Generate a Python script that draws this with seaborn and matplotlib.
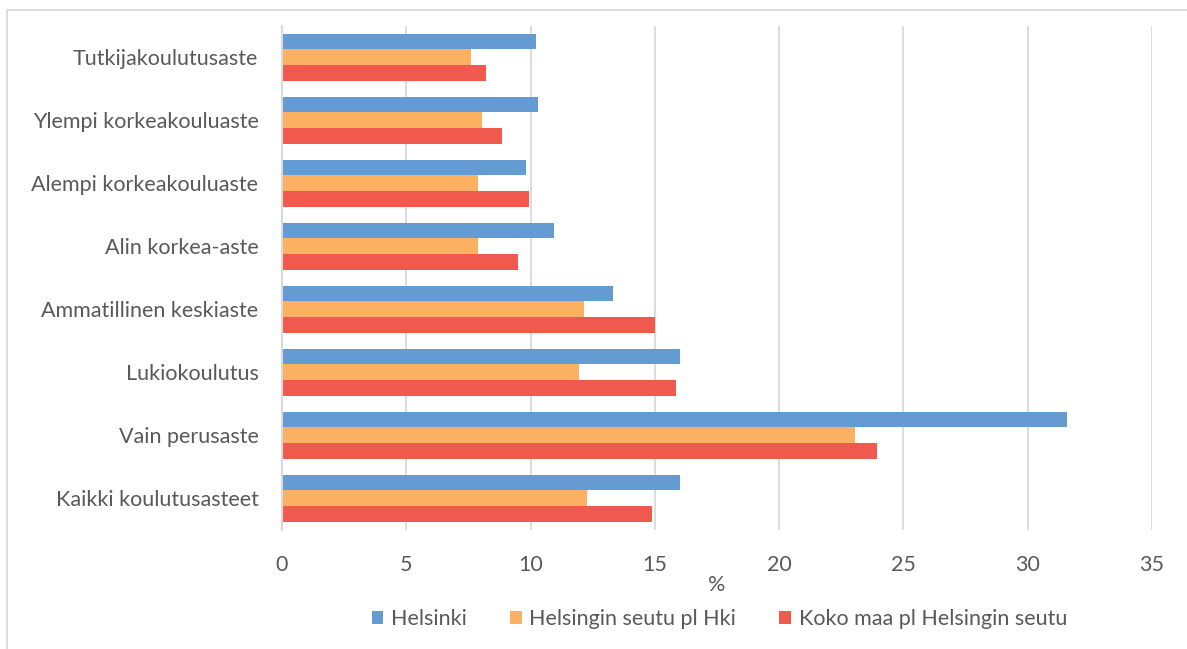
import pandas as pd
import matplotlib
matplotlib.use("Agg")
import matplotlib.pyplot as plt
from matplotlib.patches import Rectangle
import seaborn as sns

# data (%)
koulutus = ["Tutkijakoulutusaste", "Ylempi korkeakouluaste", "Alempi korkeakouluaste",
            "Alin korkea-aste", "Ammatillinen keskiaste", "Lukiokoulutus",
            "Vain perusaste", "Kaikki koulutusasteet"]
helsinki = [10.2, 10.3, 9.8, 10.95, 13.3, 16.0, 31.6, 16.0]
seutu = [7.6, 8.05, 7.9, 7.9, 12.15, 11.95, 23.05, 12.25]
koko_maa = [8.2, 8.85, 9.95, 9.5, 15.0, 15.85, 23.95, 14.9]
sarjat = ["Helsinki", "Helsingin seutu pl Hki", "Koko maa pl Helsingin seutu"]
varit = ["#659BD3", "#FBB062", "#F05A4E"]

df = pd.DataFrame({"Koulutus": koulutus, sarjat[0]: helsinki,
                   sarjat[1]: seutu, sarjat[2]: koko_maa})
long = df.melt(id_vars="Koulutus", var_name="Alue", value_name="Osuus")

sns.set_theme(style="white")
plt.rcParams["font.family"] = ["Lato", "DejaVu Sans"]
TXT = "#595959"
FS = 15.5

fig = plt.figure(figsize=(11.87, 6.49), dpi=100)
ax = fig.add_axes([0.2376, 0.1834, 0.7329, 0.7766])

sns.barplot(data=long, x="Osuus", y="Koulutus", hue="Alue", order=koulutus,
            hue_order=sarjat, palette=varit, orient="h", width=0.76, gap=0,
            saturation=1, linewidth=0, ax=ax)

ax.set_xlim(0, 35)
ax.set_xticks(range(0, 36, 5))
ax.set_ylim(7.5, -0.5)
ax.grid(axis="x", color="#D9D9D9", linewidth=1.3)
ax.set_axisbelow(True)
for s in ["top", "right", "bottom"]:
    ax.spines[s].set_visible(False)
ax.spines["left"].set_color("#D9D9D9")
ax.spines["left"].set_linewidth(1.5)
ax.tick_params(axis="x", length=0, pad=18, labelsize=FS, labelcolor=TXT)
ax.tick_params(axis="y", length=0, pad=17, labelsize=FS, labelcolor=TXT)
ax.set_xlabel("%", fontsize=FS, color=TXT, labelpad=0)
ax.set_ylabel("")

ax.legend_.remove()
h, l = ax.get_legend_handles_labels()
fig.legend(h, l, loc="center", bbox_to_anchor=(0.606, 0.046), ncol=3, frameon=False,
           fontsize=FS, labelcolor=TXT, handlelength=0.55, handleheight=0.55,
           handletextpad=0.35, columnspacing=2.0)

# chart area border
fig.patches.append(Rectangle((7 / 1187, -0.01), 1.1, 1 - 10 / 649 + 0.01,
                             transform=fig.transFigure, fill=False,
                             edgecolor="#D9D9D9", linewidth=1.3))

fig.savefig("out.png", dpi=100)
